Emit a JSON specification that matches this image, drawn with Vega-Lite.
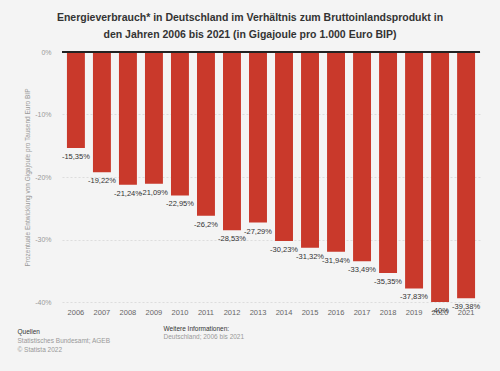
{
  "$schema": "https://vega.github.io/schema/vega-lite/v6.json",
  "width": 418,
  "height": 250,
  "autosize": "none",
  "padding": {"left": 62, "top": 52, "right": 20, "bottom": 69},
  "background": "#f4f4f4",
  "title": {
    "text": ["Energieverbrauch* in Deutschland im Verhältnis zum Bruttoinlandsprodukt in", "den Jahren 2006 bis 2021 (in Gigajoule pro 1.000 Euro BIP)"],
    "fontSize": 10.5,
    "fontWeight": "bold",
    "color": "#333333",
    "font": "Liberation Sans",
    "anchor": "middle",
    "frame": "group",
    "dx": -21,
    "lineHeight": 17,
    "offset": 8
  },
  "data": {
    "values": [
      {"year": "2006", "value": -0.1535},
      {"year": "2007", "value": -0.1922},
      {"year": "2008", "value": -0.2124},
      {"year": "2009", "value": -0.2109},
      {"year": "2010", "value": -0.2295},
      {"year": "2011", "value": -0.262},
      {"year": "2012", "value": -0.2853},
      {"year": "2013", "value": -0.2729},
      {"year": "2014", "value": -0.3023},
      {"year": "2015", "value": -0.3132},
      {"year": "2016", "value": -0.3194},
      {"year": "2017", "value": -0.3349},
      {"year": "2018", "value": -0.3535},
      {"year": "2019", "value": -0.3783},
      {"year": "2020", "value": -0.40},
      {"year": "2021", "value": -0.3938}
    ]
  },
  "resolve": {"axis": {"x": "independent", "y": "independent"}},
  "layer": [
    {
      "mark": {"type": "bar", "color": "#c9392b"},
      "encoding": {
        "x": {
          "field": "year", "type": "ordinal",
          "scale": {"paddingInner": 0.31, "paddingOuter": 0.19},
          "axis": {
            "orient": "bottom",
            "labelAngle": 0, "labelFontSize": 7.5, "labelColor": "#666666", "labelFont": "Liberation Sans",
            "labelPadding": 6, "ticks": false, "domain": false, "grid": false,
            "title": "Quellen",
            "titleFont": "Liberation Sans", "titleFontSize": 6.5, "titleFontWeight": "normal", "titleColor": "#333333",
            "titleX": -45, "titleY": 26.5, "titleAlign": "left", "titleBaseline": "top", "titleAnchor": null
          }
        },
        "y": {
          "field": "value", "type": "quantitative",
          "scale": {"domain": [-0.4, 0], "nice": false},
          "axis": {
            "orient": "left",
            "values": [0, -0.1, -0.2, -0.3, -0.4],
            "format": ".0%",
            "labelFontSize": 7, "labelColor": "#999999", "labelFont": "Liberation Sans", "labelPadding": 11,
            "ticks": false, "domain": false,
            "gridColor": "#dddddd", "gridDash": [2, 2],
            "title": "Prozentuale Entwicklung von Gigajoule pro Tausend Euro BIP",
            "titleFont": "Liberation Sans", "titleFontSize": 6.5, "titleFontWeight": "normal", "titleColor": "#999999",
            "titleX": -35, "titleY": 125, "titleAngle": -90, "titleAlign": "center", "titleBaseline": "middle"
          }
        }
      }
    },
    {
      "mark": {"type": "text", "baseline": "middle", "dy": 9, "fontSize": 7.5, "color": "#333333", "font": "Liberation Sans"},
      "encoding": {
        "x": {
          "field": "year", "type": "ordinal",
          "axis": {
            "orient": "bottom",
            "labels": false, "ticks": false, "domain": false, "grid": false,
            "title": ["Statistisches Bundesamt; AGEB", "© Statista 2022"],
            "titleFont": "Liberation Sans", "titleFontSize": 6.5, "titleFontWeight": "normal", "titleColor": "#999999",
            "titleLineHeight": 8.5,
            "titleX": -45, "titleY": 35.5, "titleAlign": "left", "titleBaseline": "top", "titleAnchor": null
          }
        },
        "y": {
          "field": "value", "type": "quantitative",
          "axis": {
            "orient": "left",
            "labels": false, "ticks": false, "domain": false, "grid": false,
            "title": "Weitere Informationen:",
            "titleFont": "Liberation Sans", "titleFontSize": 6.5, "titleFontWeight": "normal", "titleColor": "#333333",
            "titleX": 101, "titleY": 273.5, "titleAngle": 0, "titleAlign": "left", "titleBaseline": "top", "titleAnchor": null
          }
        },
        "text": {"field": "value", "type": "quantitative", "format": ".2~%"}
      }
    },
    {
      "mark": {"type": "rule", "color": "#222222", "strokeWidth": 1},
      "encoding": {
        "y": {
          "datum": 0, "type": "quantitative",
          "axis": {
            "orient": "left",
            "labels": false, "ticks": false, "domain": false, "grid": false,
            "title": "Deutschland; 2006 bis 2021",
            "titleFont": "Liberation Sans", "titleFontSize": 6.5, "titleFontWeight": "normal", "titleColor": "#999999",
            "titleX": 101, "titleY": 281.5, "titleAngle": 0, "titleAlign": "left", "titleBaseline": "top", "titleAnchor": null
          }
        }
      }
    }
  ],
  "config": {
    "view": {"stroke": null},
    "font": "Liberation Sans",
    "locale": {
      "number": {"decimal": ",", "thousands": ".", "grouping": [3], "currency": ["", " €"], "minus": "-", "percent": "%"}
    }
  }
}
